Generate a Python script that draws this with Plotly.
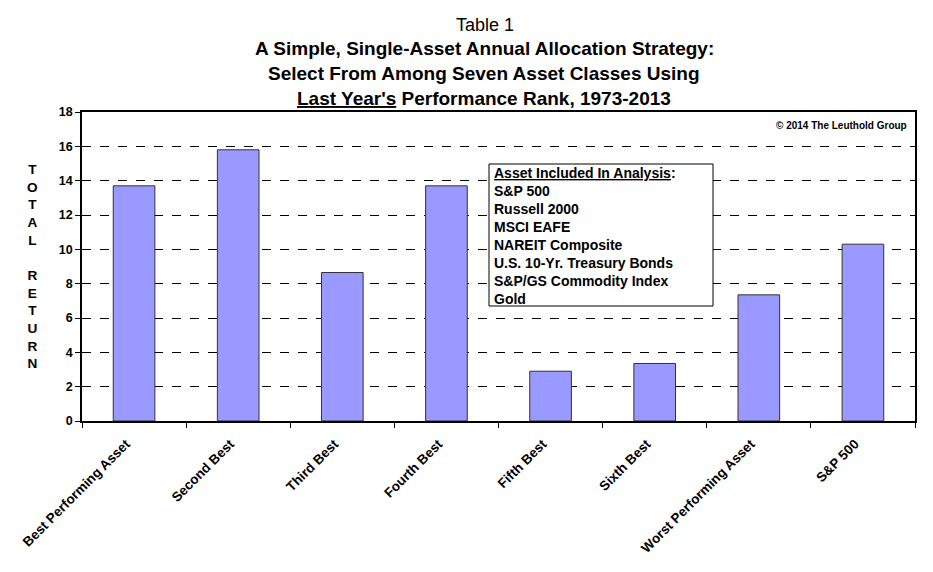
import plotly.graph_objects as go

categories = ["Best Performing Asset", "Second Best", "Third Best", "Fourth Best",
              "Fifth Best", "Sixth Best", "Worst Performing Asset", "S&P 500"]
total_return = [13.7, 15.8, 8.65, 13.7, 2.9, 3.35, 7.35, 10.3]
y_ticks = [0, 2, 4, 6, 8, 10, 12, 14, 16, 18]
assets = ["S&P 500", "Russell 2000", "MSCI EAFE", "NAREIT Composite",
          "U.S. 10-Yr. Treasury Bonds", "S&P/GS Commodity Index", "Gold"]

W, H = 933, 572
OFF = 8  # page body margin
L, R, T, B = 82, 18, 112, 151
PW, PH = W - L - R, H - T - B

def px(x):
    return (x - L) / PW

def py(y):
    return (H - B - y) / PH

FONT = "Liberation Sans, Arial, sans-serif"

fig = go.Figure()
fig.add_trace(go.Bar(
    x=categories, y=total_return, width=0.4,
    marker=dict(color="#9999FF", line=dict(color="#333333", width=1)),
    hoverinfo="x+y",
))

def ann(text, x, y, size, xanchor="center", bold=True):
    return dict(text=("<b>" + text + "</b>") if bold else text, x=px(x), y=py(y),
                xref="paper", yref="paper", xanchor=xanchor, yanchor="middle",
                showarrow=False, font=dict(family=FONT, size=size, color="black"))

annotations = []
annotations.append(ann("Table 1", 485, 25, 18, bold=False))
title_lines = ["A Simple, Single-Asset Annual Allocation Strategy:",
               "Select From Among Seven Asset Classes Using",
               "<u>Last Year's</u> Performance Rank, 1973-2013"]
for i, t in enumerate(title_lines):
    annotations.append(ann(t, 484, 48 + 25 * i, 19))
ylab = "TOTAL RETURN"
annotations.append(ann("<br>".join(c if c != " " else " " for c in ylab), 32, 266, 13.6))
annotations.append(ann("© 2014 The Leuthold Group", 909, 125, 10, xanchor="right"))
annotations.append(ann("<u>Asset Included In Analysis</u>:", 492, 173, 14, xanchor="left"))
for i, a in enumerate(assets):
    annotations.append(ann(a, 492, 191 + 18 * i, 14, xanchor="left"))

shapes = [dict(type="rect", xref="paper", yref="paper", x0=px(489), x1=px(713),
               y0=py(306), y1=py(164), fillcolor="white", line=dict(color="black", width=1),
               layer="above")]

fig.update_layout(
    width=W, height=H,
    margin=dict(l=L - OFF, r=R + OFF, t=T - OFF, b=B + OFF),
    paper_bgcolor="white", plot_bgcolor="white",
    showlegend=False,
    annotations=annotations, shapes=shapes,
    font=dict(family=FONT, color="black"),
)
fig.update_xaxes(
    showline=True, linecolor="black", linewidth=1.5, mirror=True,
    ticks="outside", tickson="boundaries", ticklen=5, tickcolor="black",
    tickangle=-45, tickfont=dict(family=FONT, size=13.5, color="black", weight="bold"),
    ticklabelstandoff=8, ticklabelshift=-8,
    showgrid=False,
)
fig.update_yaxes(
    range=[0, 18], tickvals=y_ticks, showline=True, linecolor="black", linewidth=1.5,
    mirror=True, ticks="outside", ticklen=5, tickcolor="black",
    tickfont=dict(family=FONT, size=12.5, color="black", weight="bold"),
    showgrid=True, gridcolor="black", gridwidth=1, griddash="dash", zeroline=False,
)

fig.write_html("out.html")
